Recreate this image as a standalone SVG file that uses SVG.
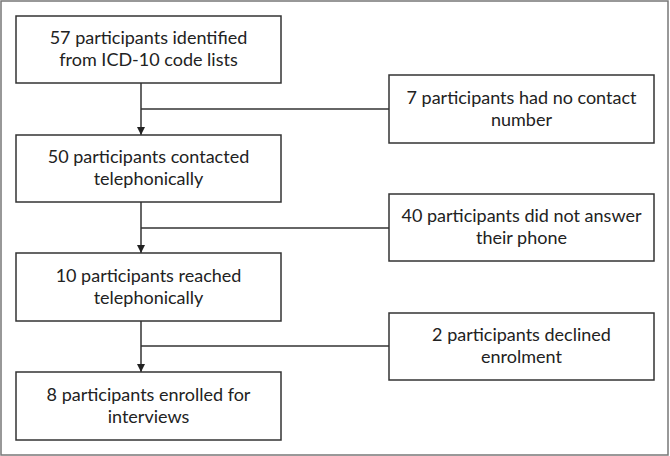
<svg xmlns="http://www.w3.org/2000/svg" width="670" height="456" viewBox="0 0 670 456">
<style>
.box{fill:#fff;stroke:#333;stroke-width:1.5}
.t{font-family:Lato,"Liberation Sans",sans-serif;font-size:18px;fill:#222;text-anchor:middle}
.ln{fill:none;stroke:#333;stroke-width:1.5}
</style>
<defs>
<marker id="ah" viewBox="0 0 10 10" refX="10" refY="5" markerWidth="8" markerHeight="8" markerUnits="userSpaceOnUse" orient="auto">
<path d="M0,0 L10,5 L0,10 z" fill="#222"/>
</marker>
</defs>
<rect x="1" y="1" width="667" height="454" fill="#fff" stroke="#777" stroke-width="1.5"/>
<g id="connectors">
<path class="ln" d="M141,83 V135" marker-end="url(#ah)"/>
<path class="ln" d="M141,109 H389"/>
<path class="ln" d="M141,202 V253" marker-end="url(#ah)"/>
<path class="ln" d="M141,228 H389"/>
<path class="ln" d="M141,321 V372" marker-end="url(#ah)"/>
<path class="ln" d="M141,346 H389"/>
</g>
<g id="n1"><rect class="box" x="16" y="16" width="265" height="67"/><text class="t" x="148.5" y="44">57 participants identified</text><text class="t" x="148.5" y="66">from ICD-10 code lists</text></g>
<g id="n2"><rect class="box" x="16" y="135" width="265" height="67"/><text class="t" x="148.5" y="163">50 participants contacted</text><text class="t" x="148.5" y="185">telephonically</text></g>
<g id="n3"><rect class="box" x="16" y="253" width="265" height="68"/><text class="t" x="148.5" y="282">10 participants reached</text><text class="t" x="148.5" y="304">telephonically</text></g>
<g id="n4"><rect class="box" x="16" y="372" width="265" height="68"/><text class="t" x="148.5" y="401">8 participants enrolled for</text><text class="t" x="148.5" y="423">interviews</text></g>
<g id="r1"><rect class="box" x="389" y="75" width="265" height="68"/><text class="t" x="521.5" y="104">7 participants had no contact</text><text class="t" x="521.5" y="126">number</text></g>
<g id="r2"><rect class="box" x="389" y="194" width="265" height="67"/><text class="t" x="521.5" y="222">40 participants did not answer</text><text class="t" x="521.5" y="244">their phone</text></g>
<g id="r3"><rect class="box" x="389" y="313" width="265" height="67"/><text class="t" x="521.5" y="341">2 participants declined</text><text class="t" x="521.5" y="363">enrolment</text></g>
</svg>
